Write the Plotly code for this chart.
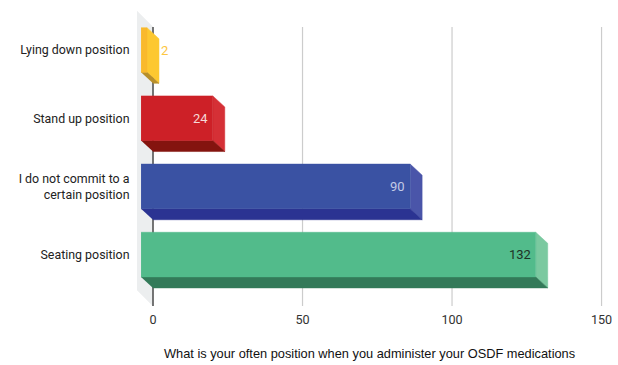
import plotly.graph_objects as go

categories = ["Lying down position", "Stand up position",
              "I do not commit to a<br>certain position", "Seating position"]
values = [2, 24, 90, 132]
x_ticks = [0, 50, 100, 150]
x_title = "What is your often position when you administer your OSDF medications"

front_colors = ["#f9b92c", "#cd2027", "#3a52a3", "#52bb8b"]
side_colors = ["#fdc830", "#d53036", "#4a55a9", "#7bc9a0"]
floor_colors = ["#b88f2a", "#84140f", "#2b3392", "#337a59"]
label_colors = ["#fdc640", "#f6d9d6", "#c3cae6", "#1e3327"]

# Extrusion of the pseudo-3D bars, in axis units
DEPTH_X = 4.0
DEPTH_Y = 0.162
HALF_BAR = 0.327
Y_BOTTOM, Y_TOP = 3.754, -0.572
X_LEFT, X_RIGHT = -5.35, 155.5
GRID_TOP = Y_TOP + DEPTH_Y * 1.45


def face(xs, ys, color):
    return go.Scatter(x=xs, y=ys, mode="lines", fill="toself", fillcolor=color,
                      line=dict(width=0.5, color=color), hoverinfo="skip", showlegend=False)


fig = go.Figure()

# Back wall on the left of the value axis
fig.add_trace(face([X_LEFT, 0, 0, X_LEFT],
                   [Y_TOP, GRID_TOP, Y_BOTTOM, Y_BOTTOM - DEPTH_Y * 1.45],
                   "#eceeef"))

# Grid lines, with a darker zero line
for t in x_ticks:
    fig.add_trace(go.Scatter(x=[t, t], y=[GRID_TOP, Y_BOTTOM], mode="lines",
                             line=dict(color="#4a4a4a" if t == 0 else "#cccccc",
                                       width=1.5 if t == 0 else 1.2),
                             hoverinfo="skip", showlegend=False))

# Each bar is a front, a side and a floor face
for i, v in enumerate(values):
    x0 = -DEPTH_X
    x1 = v - DEPTH_X
    top = i - HALF_BAR
    bottom = i + HALF_BAR
    fig.add_trace(face([x1, v, v, x1], [top, top + DEPTH_Y, bottom + DEPTH_Y, bottom],
                       side_colors[i]))
    fig.add_trace(face([x0, x1, v, 0], [bottom, bottom, bottom + DEPTH_Y, bottom + DEPTH_Y],
                       floor_colors[i]))
    fig.add_trace(face([x0, x1, x1, x0], [top, top, bottom, bottom], front_colors[i]))

# Value labels: inside the front face, or past the bar when it is too short
for i, v in enumerate(values):
    short = v < 10
    fig.add_annotation(x=v if short else v - DEPTH_X, y=i, text=str(v), showarrow=False,
                       xanchor="left" if short else "right",
                       xshift=0 if short else -3,
                       font=dict(family="Roboto", size=13, color=label_colors[i]))

# Axis caption, centred under the chart rather than under the plot area
fig.add_annotation(xref="paper", yref="paper", x=0.483, y=0, yshift=-47, text=x_title,
                   showarrow=False, xanchor="center", yanchor="middle",
                   font=dict(family="Liberation Sans", size=12.8, color="#111111"))

fig.update_layout(
    width=618, height=365, autosize=False,
    margin=dict(l=137, r=0, t=11, b=59),
    paper_bgcolor="white", plot_bgcolor="white",
    font=dict(family="Roboto", size=12.4, color="#222222"),
    xaxis=dict(range=[X_LEFT, X_RIGHT], tickvals=x_ticks, showgrid=False, zeroline=False,
               showline=False, ticks="outside", ticklen=2, tickcolor="rgba(0,0,0,0)",
               tickfont=dict(size=12.6, color="#333333")),
    yaxis=dict(range=[Y_BOTTOM, Y_TOP], tickvals=list(range(len(categories))),
               ticktext=categories, showgrid=False, zeroline=False, showline=False,
               ticks="outside", ticklen=4, tickcolor="rgba(0,0,0,0)",
               tickfont=dict(size=12.4, color="#222222")),
)

fig.write_html("out.html", config=dict(displayModeBar=False))
